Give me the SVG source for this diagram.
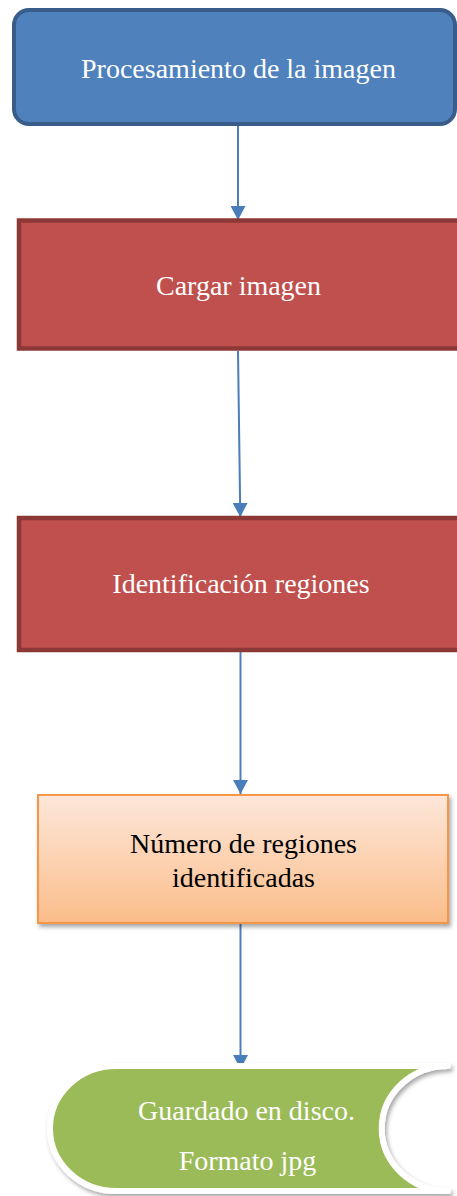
<svg xmlns="http://www.w3.org/2000/svg" width="457" height="1196" viewBox="0 0 457 1196">
<style>
text{font-family:"Liberation Serif","Times New Roman",serif;font-size:28px;text-anchor:middle}
.w{fill:#ffffff}
.k{fill:#000000}
.conn{stroke:#4a7ebb;stroke-width:2;fill:none;marker-end:url(#arr)}
</style>
<defs>
<marker id="arr" viewBox="0 0 14 15" refX="14" refY="7.5" markerWidth="14" markerHeight="15" markerUnits="userSpaceOnUse" orient="auto">
<path d="M0,0 L14,7.5 L0,15 Z" fill="#4a7ebb"/>
</marker>
<linearGradient id="og" x1="0" y1="0" x2="0" y2="1">
<stop offset="0" stop-color="#fde7da"/>
<stop offset="1" stop-color="#fbbd8a"/>
</linearGradient>
<filter id="sh" x="-10%" y="-10%" width="130%" height="140%">
<feDropShadow dx="2" dy="3" stdDeviation="2" flood-color="#000" flood-opacity="0.35"/>
</filter>
</defs>
<g id="connectors">
<line class="conn" x1="238" y1="126" x2="238" y2="220"/>
<line class="conn" x1="238" y1="351" x2="240.3" y2="517"/>
<line class="conn" x1="240.5" y1="652" x2="240.5" y2="794"/>
<line class="conn" x1="240.5" y1="924" x2="240.5" y2="1069"/>
</g>
<g id="node1">
<rect x="14" y="10" width="441" height="114" rx="15" ry="15" fill="#4f81bd" stroke="#385d8a" stroke-width="4"/>
<text class="w" x="238.5" y="78">Procesamiento de la imagen</text>
</g>
<g id="node2">
<rect x="19" y="220.5" width="460" height="128" fill="#c0504d" stroke="#8c3836" stroke-width="4.5"/>
<text class="w" x="238.5" y="295">Cargar imagen</text>
</g>
<g id="node3">
<rect x="19" y="518" width="460" height="132" fill="#c0504d" stroke="#8c3836" stroke-width="4.5"/>
<text class="w" x="241" y="593">Identificación regiones</text>
</g>
<g id="node4">
<rect x="38" y="795" width="410" height="128" fill="url(#og)" stroke="#f79646" stroke-width="2" filter="url(#sh)"/>
<text class="k" x="243.5" y="853">Número de regiones</text>
<text class="k" x="243.5" y="887">identificadas</text>
</g>
<g id="node5">
<path d="M116.3,1066 L448,1066 A66.3,62.5 0 0 0 448,1191 L116.3,1191 A66.3,62.5 0 0 1 116.3,1066 Z" fill="#9bbb59" stroke="#ffffff" stroke-width="6" stroke-linejoin="round" filter="url(#sh)"/>
<text class="w" x="246.5" y="1120">Guardado en disco.</text>
<text class="w" x="247.5" y="1170">Formato jpg</text>
</g>
</svg>
